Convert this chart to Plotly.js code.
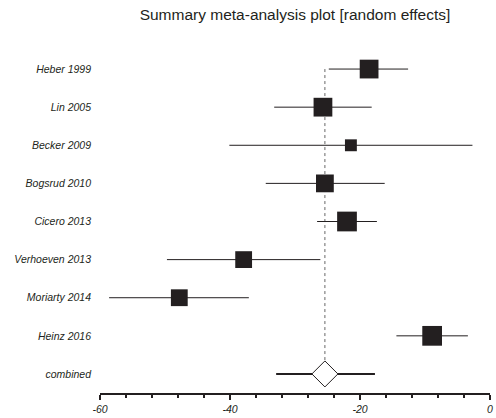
<!DOCTYPE html>
<html>
<head>
<meta charset="utf-8">
<script src="https://cdn.plot.ly/plotly-3.0.1.min.js"></script>
<style>html,body{margin:0;padding:0;background:#fff;}#chart{width:496px;height:418px;}</style>
</head>
<body>
<div id="chart"></div>
<script>
const studies = ["Heber 1999", "Lin 2005", "Becker 2009", "Bogsrud 2010", "Cicero 2013", "Verhoeven 2013", "Moriarty 2014", "Heinz 2016"];
const effects = [-18.6, -25.7, -21.4, -25.4, -22.0, -37.9, -47.8, -8.9];
const ciLow  = [-24.8, -33.2, -40.1, -34.5, -26.6, -49.7, -58.6, -14.4];
const ciHigh = [-12.6, -18.2, -2.7, -16.2, -17.4, -26.1, -37.1, -3.4];
const weights = [13.4, 13.4, 8.5, 12.7, 14.1, 12.0, 12.0, 14.1];
const combinedLabel = "combined";
const combinedEffect = -25.4;
const combinedLow = -32.9;
const combinedHigh = -17.7;
const xTickVals = [-60, -40, -20, 0];
const xTickText = ["-60", "-40", "-20", "0"];

const n = studies.length;
const rowY = studies.map((s, i) => n - i);
const ink = "#231f20";

const traces = [
  {
    x: [combinedEffect, combinedEffect], y: [rowY[0], 0],
    mode: "lines", line: {color: "#666", width: 1, dash: "dot"},
    hoverinfo: "skip", showlegend: false
  },
  {
    x: effects, y: rowY, mode: "markers", type: "scatter",
    marker: {symbol: "square", size: weights.map(w => w * 1.4), color: ink, opacity: 1, line: {width: 0}},
    error_x: {type: "data", symmetric: false,
      array: effects.map((e, i) => ciHigh[i] - e),
      arrayminus: effects.map((e, i) => e - ciLow[i]),
      width: 0, thickness: 1, color: ink},
    showlegend: false
  },
  {
    x: [combinedEffect], y: [0], mode: "markers", type: "scatter",
    marker: {symbol: "diamond", size: 20, color: "#fff", opacity: 1, line: {color: ink, width: 1}},
    error_x: {type: "data", symmetric: false,
      array: [combinedHigh - combinedEffect], arrayminus: [combinedEffect - combinedLow],
      width: 0, thickness: 2, color: ink},
    showlegend: false
  }
];

const layout = {
  width: 496, height: 418,
  margin: {l: 100, r: 6, t: 50, b: 25},
  paper_bgcolor: "#fff", plot_bgcolor: "#fff",
  font: {family: "Liberation Sans, Arial, sans-serif", color: ink, size: 10},
  title: {text: "Summary meta-analysis plot [random effects]",
    x: 0.5, xref: "paper", y: 1 - 15/418, yref: "container", yanchor: "middle",
    font: {size: 15.5, color: ink}},
  xaxis: {range: [-60, 0], showgrid: false, zeroline: false,
    showline: true, linecolor: ink, linewidth: 2,
    tickvals: xTickVals, ticktext: xTickText.map(t => "<i>" + t + "</i>"),
    ticks: "outside", ticklen: 5, tickwidth: 1.5, tickcolor: ink,
    minor: {dtick: 4, tick0: 0, ticks: "outside", ticklen: 3, tickwidth: 1.5, tickcolor: ink, showgrid: false},
    tickfont: {size: 10.5}},
  yaxis: {range: [-0.5, n + 0.5], showgrid: false, zeroline: false, showline: false,
    tickvals: [...rowY, 0], ticktext: [...studies, combinedLabel].map(t => "<i>" + t + "</i>"),
    ticks: "", ticklabelstandoff: 8, tickfont: {size: 10.5}},
  hovermode: false
};

Plotly.newPlot("chart", traces, layout, {displayModeBar: false, staticPlot: true});
</script>
</body>
</html>
